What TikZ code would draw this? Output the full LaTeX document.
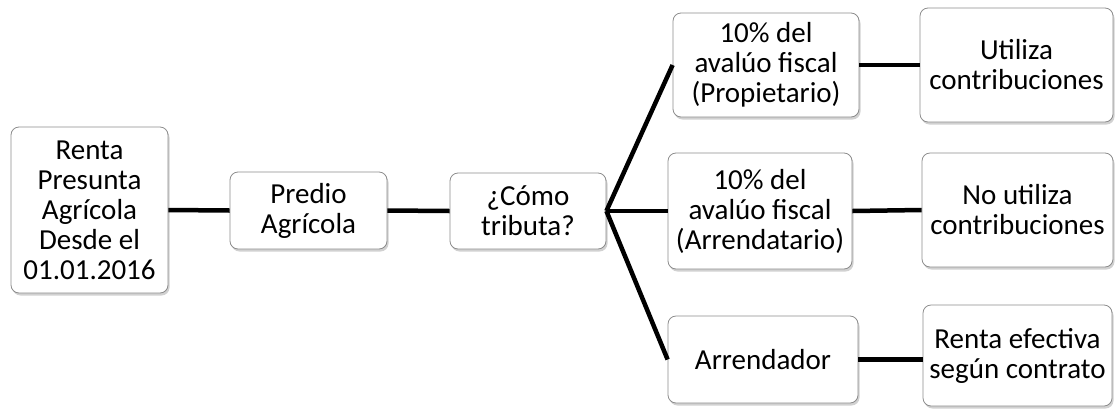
\documentclass[tikz,border=0pt]{standalone}
\usepackage{fontspec}
\setmainfont{Carlito}
\usetikzlibrary{shadows}
\tikzset{bx/.style={draw=gray!90,line width=0.8pt,fill=white,rounded corners=8pt,align=center,inner sep=2pt,
    font=\fontsize{29}{30}\selectfont,
    drop shadow={shadow xshift=1.5pt,shadow yshift=-2.5pt,opacity=0.45,fill=gray!80}}}
\tikzset{ln/.style={line width=4.5pt,black}}

\begin{document}
\begin{tikzpicture}[x=1pt,y=-1pt]
  \useasboundingbox (0,0) rectangle (1120,408);
  \node[bx,minimum width=157pt,minimum height=166pt] (renta) at (89.5,210) {Renta\\Presunta\\Agrícola\\Desde el\\01.01.2016};
  \node[bx,minimum width=157pt,minimum height=77pt] (predio) at (308.5,210.5) {Predio\\Agrícola};
  \node[bx,minimum width=156pt,minimum height=76pt] (como) at (528,211) {¿Cómo\\tributa?};
  \node[bx,minimum width=186pt,minimum height=104pt] (prop) at (766,65) {10\% del\\avalúo fiscal\\(Propietario)};
  \node[bx,minimum width=184pt,minimum height=116pt] (arrt) at (760,211) {10\% del\\avalúo fiscal\\(Arrendatario)};
  \node[bx,minimum width=190pt,minimum height=87pt] (arrd) at (763,359.5) {Arrendador};
  \node[bx,minimum width=193pt,minimum height=114pt] (util) at (1016.5,65) {Utiliza\\contribuciones};
  \node[bx,minimum width=191pt,minimum height=114pt] (noutil) at (1017.5,210) {No utiliza\\contribuciones};
  \node[bx,minimum width=189pt,minimum height=101pt] (efect) at (1017.5,355.5) {Renta efectiva\\según contrato};
  % conectores
  \draw[ln] (renta.east) -- (predio.west);
  \draw[ln] (predio.east) -- (como.west);
  \draw[ln] (como.east) -- (prop.west);
  \draw[ln] (como.east) -- (arrt.west);
  \draw[ln] (como.east) -- (arrd.west);
  \draw[ln] (prop.east) -- (util.west);
  \draw[ln] (arrt.east) -- (noutil.west);
  \draw[ln] (arrd.east) -- (arrd.east -| efect.west);
\end{tikzpicture}
\end{document}
